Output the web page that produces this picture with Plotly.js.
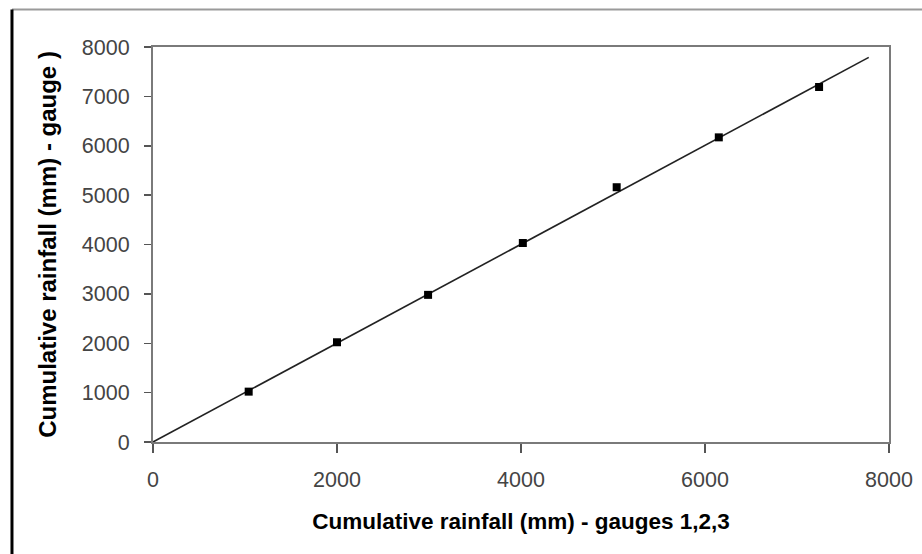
<!DOCTYPE html>
<html>
<head>
<meta charset="utf-8">
<script src="https://cdn.plot.ly/plotly-3.0.1.min.js"></script>
<style>
  html, body { margin: 0; padding: 0; background: #fff; }
  #chart { width: 922px; height: 554px; }
</style>
</head>
<body>
<div id="chart"></div>
<script>
// Observed data: cumulative rainfall (mm), gauges 1,2,3 vs gauge
const gaugesX = [1040, 2000, 2990, 4020, 5040, 6150, 7240];
const gaugeY  = [1020, 2020, 2980, 4030, 5160, 6170, 7190];
// Fitted (double-mass) line end points
const fitX = [0, 7780];
const fitY = [0, 7790];

const xTitle = 'Cumulative rainfall (mm) - gauges 1,2,3';
const yTitle = 'Cumulative rainfall (mm) - gauge )';

const traces = [
  {
    x: fitX, y: fitY, type: 'scatter', mode: 'lines',
    line: { color: '#222', width: 1.6 }, hoverinfo: 'skip', showlegend: false
  },
  {
    x: gaugesX, y: gaugeY, type: 'scatter', mode: 'markers',
    marker: { symbol: 'square', size: 8, color: '#000' }, showlegend: false
  }
];

const axisCommon = {
  showgrid: false, zeroline: false,
  showline: true, linecolor: '#7a7a7a', linewidth: 2, mirror: true,
  ticks: 'outside', tickcolor: '#555', tickwidth: 1.5,
  tickfont: { family: 'Liberation Sans, Arial, sans-serif', size: 21.5, color: '#444' }
};

const layout = {
  width: 922, height: 554,
  paper_bgcolor: '#fff', plot_bgcolor: '#fff',
  margin: { l: 153, r: 33, t: 47, b: 112 },
  showlegend: false,
  xaxis: Object.assign({}, axisCommon, {
    range: [0, 8000], tick0: 0, dtick: 2000, ticklen: 9,
    ticklabelstandoff: 8,
    title: { text: xTitle, standoff: 22,
      font: { family: 'Liberation Sans, Arial, sans-serif', size: 22.5, color: '#000', weight: 'bold' } }
  }),
  yaxis: Object.assign({}, axisCommon, {
    range: [0, 8000], tick0: 0, dtick: 1000, ticklen: 7,
    ticklabelstandoff: 10,
    title: { text: yTitle, standoff: 18,
      font: { family: 'Liberation Sans, Arial, sans-serif', size: 24, color: '#000', weight: 'bold' } }
  }),
  shapes: [
    { type: 'line', xref: 'paper', yref: 'paper',
      x0: -0.1916, x1: 1.06, y0: 1.0949, y1: 1.0949,
      line: { color: '#9a9a9a', width: 2 } },
    { type: 'line', xref: 'paper', yref: 'paper',
      x0: -0.1916, x1: -0.1916, y0: 1.0949, y1: -0.29,
      line: { color: '#000', width: 3 } }
  ]
};

Plotly.newPlot('chart', traces, layout, { displayModeBar: false, staticPlot: true });
</script>
</body>
</html>
